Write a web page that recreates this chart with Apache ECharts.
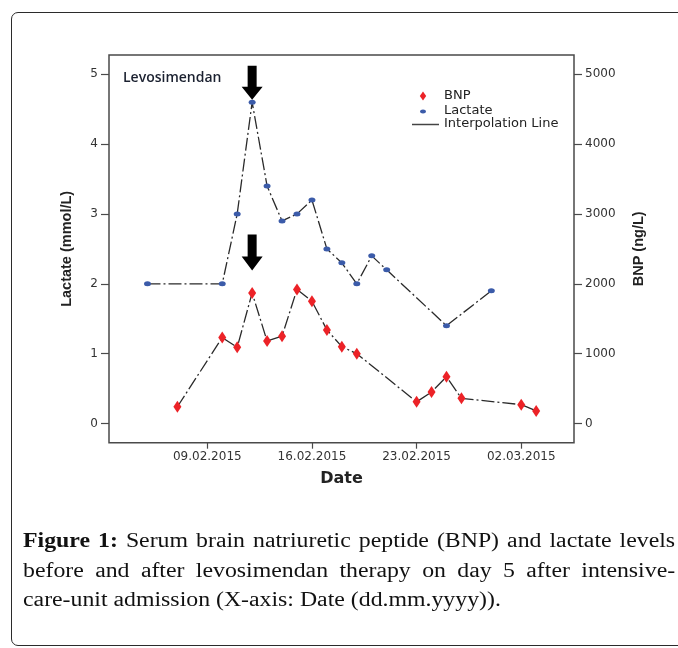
<!DOCTYPE html>
<html>
<head>
<meta charset="utf-8">
<script src="https://cdn.jsdelivr.net/npm/echarts@6/dist/echarts.min.js"></script>
<style>
  html, body { margin: 0; padding: 0; background: #fff; }
  #wrap { position: relative; width: 678px; height: 648px; overflow: hidden; }
  #chart { position: absolute; left: 0; top: 0; width: 678px; height: 648px; }
  .frame {
    position: absolute; left: 11px; top: 12px; width: 720px; height: 632px;
    border: 1.5px solid #2b2b2b; border-radius: 7px; pointer-events: none;
  }
  /* the printed caption is horizontally stretched, so stretch it the same way */
  .caption {
    position: absolute; left: 23px; top: 526px; width: 548px;
    transform: scaleX(1.19); transform-origin: 0 0;
    font-family: "Liberation Serif", "DejaVu Serif", serif; font-size: 20px;
    line-height: 29.5px; color: #111;
  }
  .caption div { white-space: nowrap; }
  .caption .just { text-align: justify; text-align-last: justify; }
</style>
</head>
<body>
<div id="wrap">
  <div id="chart"></div>
  <div class="frame"></div>
  <div class="caption">
    <div class="just"><b>Figure 1:</b> Serum brain natriuretic peptide (BNP) and lactate levels</div>
    <div class="just">before and after levosimendan therapy on day 5 after intensive-</div>
    <div>care-unit admission (X-axis: Date (dd.mm.yyyy)).</div>
  </div>
</div>
<script>
  // values
  const lactateDates = ["2015-02-05", "2015-02-10", "2015-02-11", "2015-02-12", "2015-02-13",
    "2015-02-14", "2015-02-15", "2015-02-16", "2015-02-17", "2015-02-18", "2015-02-19",
    "2015-02-20", "2015-02-21", "2015-02-25", "2015-02-28"];
  const lactateValues = [2.0, 2.0, 3.0, 4.6, 3.4, 2.9, 3.0, 3.2, 2.5, 2.3, 2.0, 2.4, 2.2, 1.4, 1.9];

  const bnpDates = ["2015-02-07", "2015-02-10", "2015-02-11", "2015-02-12", "2015-02-13",
    "2015-02-14", "2015-02-15", "2015-02-16", "2015-02-17", "2015-02-18", "2015-02-19",
    "2015-02-23", "2015-02-24", "2015-02-25", "2015-02-26", "2015-03-02", "2015-03-03"];
  const bnpValues = [240, 1230, 1090, 1870, 1180, 1250, 1920, 1750, 1340, 1100, 1000,
    310, 450, 670, 360, 270, 180];

  const xTickDates = ["2015-02-09", "2015-02-16", "2015-02-23", "2015-03-02"];
  const lactateTicks = [0, 1, 2, 3, 4, 5];
  const bnpTicks = [0, 1000, 2000, 3000, 4000, 5000];
  const therapyDate = "2015-02-12";

  const DAY = 86400000;
  const ts = (s) => Date.parse(s + "T00:00:00Z");
  const pad = (n) => (n < 10 ? "0" + n : "" + n);
  const fmtDate = (v) => {
    const d = new Date(v);
    return pad(d.getUTCDate()) + "." + pad(d.getUTCMonth() + 1) + "." + d.getUTCFullYear();
  };
  const plain = (v) => String(v);

  const lineStyle = { color: "#2a2a2a", width: 1.3, type: [13, 3, 2, 3] };
  const arrow = "path://M6,0 L15,0 L15,21 L21,21 L10.5,34 L0,21 L6,21 Z";
  const tickStyle = { color: "#4a4a4a", width: 1.2 };
  const labelFont = { fontFamily: "DejaVu Sans", fontSize: 12, color: "#333" };

  const chart = echarts.init(document.getElementById("chart"), null, { renderer: "canvas" });

  chart.setOption({
    animation: false,
    backgroundColor: "#fff",
    grid: {
      left: 109, right: 104, top: 55, bottom: 205.3,
      show: true, borderColor: "#4a4a4a", borderWidth: 1.5, backgroundColor: "transparent",
    },
    xAxis: {
      type: "value",
      min: ts(xTickDates[0]) - 6.575 * DAY,
      max: ts(xTickDates[0]) + 24.53 * DAY,
      name: "Date",
      nameLocation: "middle",
      nameGap: 28,
      nameTextStyle: { fontFamily: "DejaVu Sans", fontSize: 16, fontWeight: "bold", color: "#222" },
      axisLine: { show: false, onZero: false },
      splitLine: { show: false },
      axisTick: { show: true, length: 6, lineStyle: tickStyle, customValues: xTickDates.map(ts) },
      axisLabel: Object.assign({ margin: 8, formatter: fmtDate, customValues: xTickDates.map(ts) }, labelFont),
    },
    yAxis: [
      {
        type: "value",
        position: "left",
        min: -0.275,
        max: 5.276,
        name: "Lactate (mmol/L)",
        nameLocation: "middle",
        nameRotate: 90,
        nameGap: 35,
        nameTextStyle: { fontFamily: "Liberation Sans", fontSize: 14.5, fontWeight: "bold", color: "#222" },
        axisLine: { show: false, onZero: false },
        splitLine: { show: false },
        axisTick: { show: true, length: 8, lineStyle: tickStyle, customValues: lactateTicks },
        axisLabel: Object.assign({ margin: 11, formatter: plain, customValues: lactateTicks }, labelFont),
      },
      {
        type: "value",
        position: "right",
        min: -275,
        max: 5276,
        name: "BNP (ng/L)",
        nameLocation: "middle",
        nameRotate: 90,
        nameGap: 57,
        nameTextStyle: { fontFamily: "Liberation Sans", fontSize: 14.5, fontWeight: "bold", color: "#222" },
        axisLine: { show: false, onZero: false },
        splitLine: { show: false },
        axisTick: { show: true, length: 8, lineStyle: tickStyle, customValues: bnpTicks },
        axisLabel: Object.assign({ margin: 11, formatter: plain, customValues: bnpTicks }, labelFont),
      },
    ],
    series: [
      {
        name: "Lactate",
        type: "line",
        yAxisIndex: 0,
        data: lactateDates.map((d, i) => [ts(d), lactateValues[i]]),
        symbol: "circle",
        symbolSize: [7, 5],
        itemStyle: { color: "#3b5ba9" },
        lineStyle: lineStyle,
        z: 3,
        markPoint: {
          symbol: arrow,
          symbolSize: [21, 34],
          symbolKeepAspect: false,
          itemStyle: { color: "#000" },
          label: { show: false },
          data: [{
            coord: [ts(therapyDate), lactateValues[lactateDates.indexOf(therapyDate)]],
            symbolOffset: [0, -19.5],
          }],
        },
      },
      {
        name: "BNP",
        type: "line",
        yAxisIndex: 1,
        data: bnpDates.map((d, i) => [ts(d), bnpValues[i]]),
        symbol: "diamond",
        symbolSize: [8, 12],
        itemStyle: { color: "#ec2227" },
        lineStyle: lineStyle,
        z: 4,
        markPoint: {
          symbol: arrow,
          symbolSize: [21, 36],
          symbolKeepAspect: false,
          itemStyle: { color: "#000" },
          label: { show: false },
          data: [{
            coord: [ts(therapyDate), bnpValues[bnpDates.indexOf(therapyDate)]],
            symbolOffset: [0, -40.5],
          }],
        },
      },
    ],
    graphic: [
      {
        type: "text", left: 123, top: 71,
        style: { text: "Levosimendan", font: "600 14px 'Open Sans'", fill: "#1b2130" },
      },
      // legend
      {
        type: "polygon",
        shape: { points: [[423, 91.5], [426.2, 96], [423, 100.5], [419.8, 96]] },
        style: { fill: "#ec2227" },
      },
      {
        type: "ellipse",
        shape: { cx: 423, cy: 111.5, rx: 3, ry: 2 },
        style: { fill: "#3b5ba9" },
      },
      {
        type: "line",
        shape: { x1: 412, y1: 124.5, x2: 439, y2: 124.5 },
        style: { stroke: "#444", lineWidth: 1.5 },
      },
      {
        type: "text", left: 444, top: 89,
        style: { text: "BNP", font: "13px 'DejaVu Sans'", fill: "#222" },
      },
      {
        type: "text", left: 444, top: 104,
        style: { text: "Lactate", font: "13px 'DejaVu Sans'", fill: "#222" },
      },
      {
        type: "text", left: 444, top: 117.5,
        style: { text: "Interpolation Line", font: "13px 'DejaVu Sans'", fill: "#222" },
      },
    ],
  });
</script>
</body>
</html>
